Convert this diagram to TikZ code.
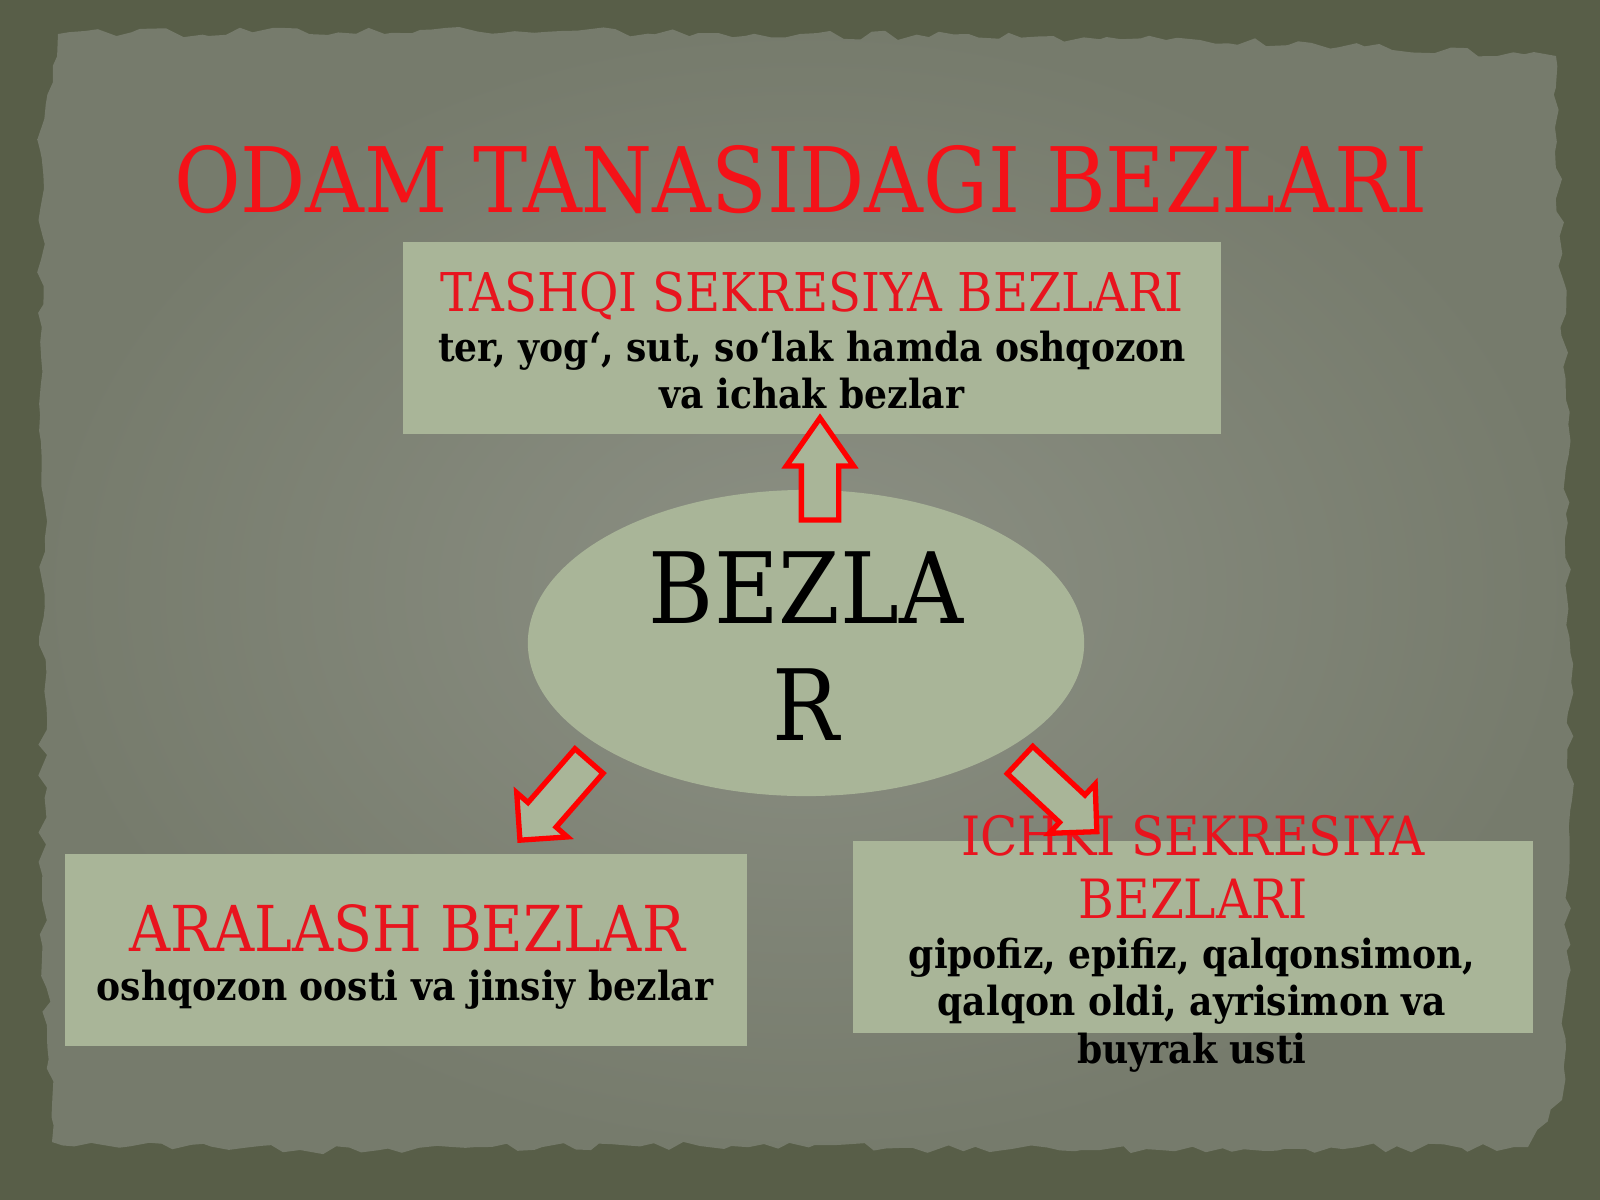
\documentclass[tikz,border=0pt]{standalone}
\usepackage{fontspec}
\setmainfont{DejaVu Serif Condensed}
\usetikzlibrary{shapes.geometric,shapes.arrows,decorations.pathmorphing}

\definecolor{outerbg}{RGB}{88,94,72}
\definecolor{paperlight}{RGB}{140,144,132}
\definecolor{paperdark}{RGB}{118,123,108}
\definecolor{panelfill}{RGB}{169,181,152}
\definecolor{titlered}{RGB}{244,18,24}
\definecolor{headred}{RGB}{232,20,30}

\tikzset{
  panel/.style={fill=panelfill, inner sep=0pt, outer sep=0pt},
  titletext/.style={text=titlered, font=\fontsize{25.7pt}{30pt}\selectfont, inner sep=0pt},
  headtext/.style={text=headred, align=center, inner sep=0pt},
  bodytext/.style={text=black, align=center, inner sep=0pt,
    font=\bfseries\fontsize{11.4pt}{13.3pt}\selectfont},
  bigarrow/.style={single arrow, draw=red, line width=1.5pt, fill=panelfill,
    inner xsep=0pt, inner ysep=0.16cm, outer sep=0pt, anchor=tail,
    minimum height=1.04cm, single arrow head extend=0.15cm}
}

\begin{document}
\begin{tikzpicture}[x=0.01cm, y=-0.01cm]
\useasboundingbox (0,0) rectangle (1600,1200);
\fill[outerbg] (0,0) rectangle (1600,1200);

% torn paper
\shade[inner color=paperlight, outer color=paperdark,
  decorate, decoration={random steps, segment length=4pt, amplitude=1.3pt}]
  (58,34) -- (420,30) -- (800,34) -- (1200,40) -- (1556,56)
  -- (1566,400) -- (1572,800) -- (1562,1100) -- (1528,1147)
  -- (1100,1150) -- (700,1146) -- (300,1150) -- (52,1142)
  -- (42,900) -- (44,500) -- (40,150) -- cycle;

% panels
\node[panel, minimum width=8.17cm, minimum height=1.92cm] (tashqi) at (812,338) {};
\node[panel, minimum width=6.81cm, minimum height=1.92cm] (aralash) at (406,950) {};
\node[panel, minimum width=6.79cm, minimum height=1.91cm] (ichki) at (1193,937) {};
\node[ellipse, fill=panelfill, inner sep=0pt,
  minimum width=5.56cm, minimum height=3.06cm] (bezlar) at (806,643) {};

% texts (base = baseline of the last line)
\node[titletext, anchor=base] (title) at (801,212) {ODAM TANASIDAGI BEZLARI};

\node[headtext, anchor=base, font=\fontsize{15.2pt}{18pt}\selectfont]
  (tashqihead) at (812,311) {TASHQI SEKRESIYA BEZLARI};
\node[bodytext, anchor=base] (tashqibody) at (812,408)
  {ter, yog‘, sut, so‘lak hamda oshqozon\\ va ichak bezlar};

\node[anchor=base, align=center, inner sep=0pt,
  font=\fontsize{28pt}{33pt}\selectfont] (bezlartxt) at (806,740) {BEZLA\\R};

\node[headtext, anchor=base, font=\fontsize{18pt}{21pt}\selectfont]
  (aralashhead) at (407,951) {ARALASH BEZLAR};
\node[bodytext, anchor=base] (aralashbody) at (405,1000)
  {oshqozon oosti va jinsiy bezlar};

\node[headtext, anchor=base, font=\fontsize{15.4pt}{17.9pt}\selectfont]
  (ichkihead) at (1193,918) {ICHKI SEKRESIYA\\ BEZLARI};
\node[bodytext, anchor=base, font=\bfseries\fontsize{11.4pt}{13.4pt}\selectfont]
  (ichkibody) at (1192,1063)
  {gipofiz, epifiz, qalqonsimon,\\ qalqon oldi, ayrisimon va\\ buyrak usti};

% arrows
\node[bigarrow, rotate=90, single arrow tip angle=70, minimum height=1.02cm]
  (uparrow) at (820,520) {};
\node[bigarrow, rotate=228.9, minimum height=1.05cm] (leftarrow) at (589,761) {};
\node[bigarrow, rotate=-43, minimum height=1.05cm] (rightarrow) at (1020,760) {};
\end{tikzpicture}
\end{document}
